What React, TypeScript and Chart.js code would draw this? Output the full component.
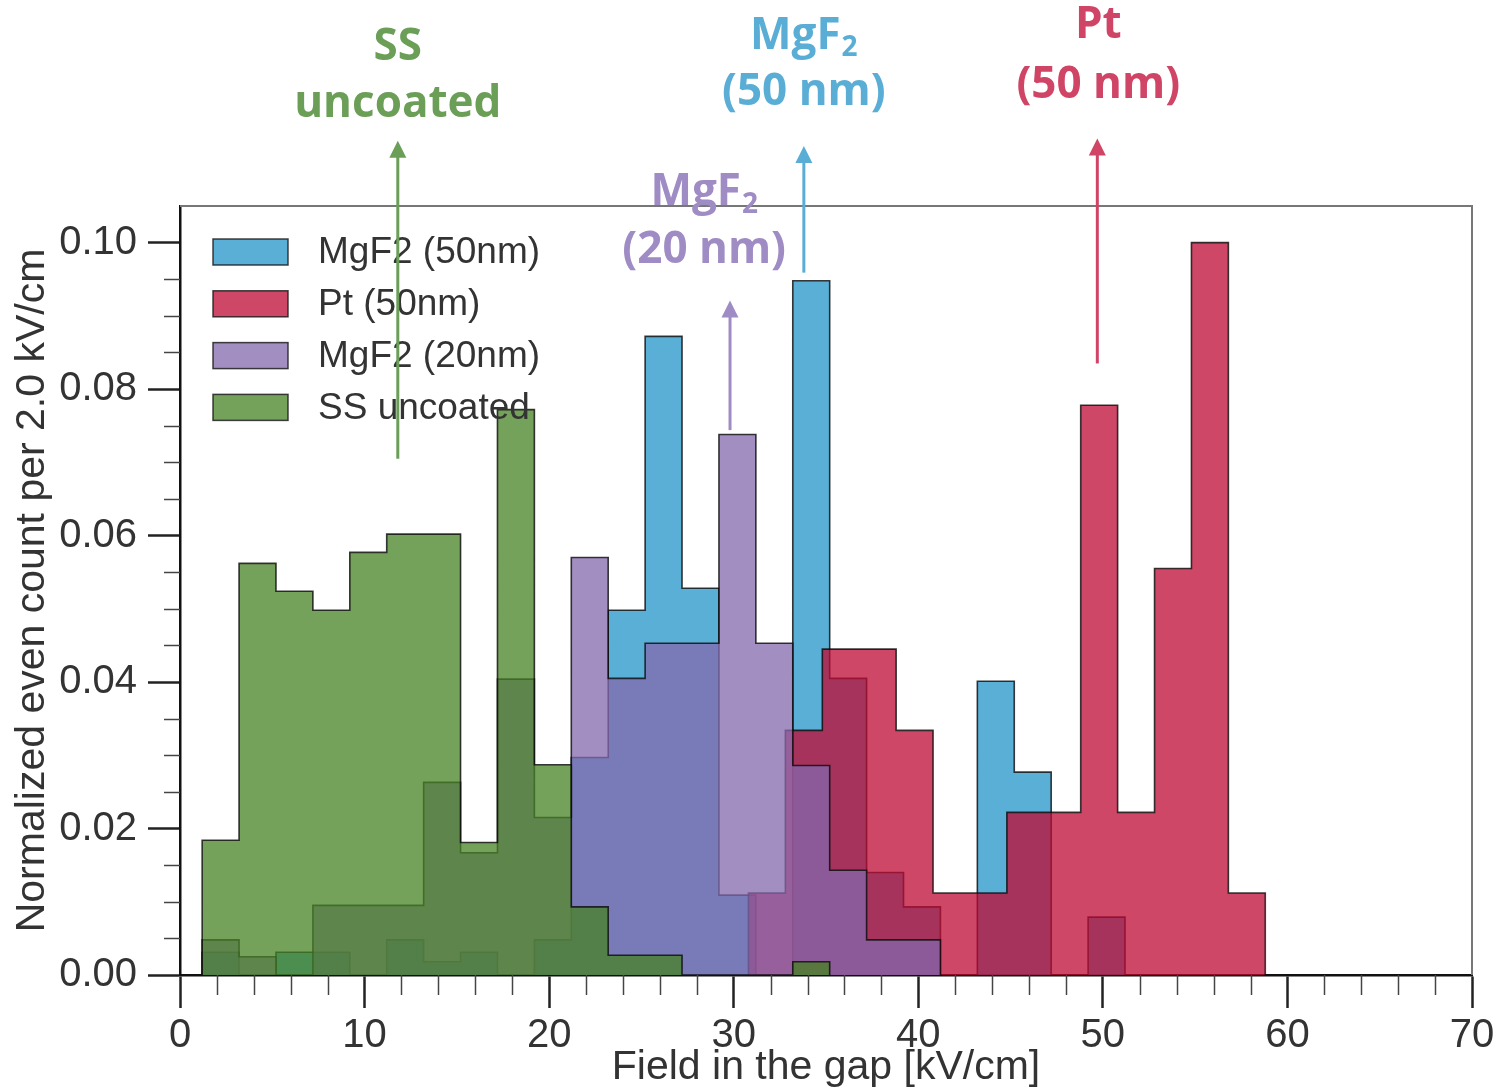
import React, { useEffect, useRef } from "react";
import { Chart, registerables } from "chart.js";

Chart.register(...registerables);

// ---- Data ----
const xTickValues = [0, 10, 20, 30, 40, 50, 60, 70];
const yTickValues = [0, 0.02, 0.04, 0.06, 0.08, 0.1];

const mgf50Edges = [1.2, 3.2, 5.2, 7.2, 9.2, 11.2, 13.2, 15.2, 17.2, 19.2, 21.2, 23.2, 25.2, 27.2, 29.2, 31.2, 33.2, 35.2, 37.2, 39.2, 41.2, 43.2, 45.2, 47.2, 49.2, 51.2];
const mgf50Values = [0.0031, 0, 0.0031, 0.0031, 0, 0.0048, 0.0018, 0.0031, 0, 0.0048, 0.0297, 0.0498, 0.0872, 0.0528, 0.0109, 0, 0.0948, 0.0405, 0.014, 0.0093, 0, 0.0401, 0.0277, 0, 0.0079];

const ptEdges = [30.8, 32.8, 34.8, 36.8, 38.8, 40.8, 42.8, 44.8, 46.8, 48.8, 50.8, 52.8, 54.8, 56.8, 58.8];
const ptValues = [0.0112, 0.0334, 0.0445, 0.0445, 0.0334, 0.0112, 0.0112, 0.0222, 0.0222, 0.0778, 0.0222, 0.0555, 0.1, 0.0112];

const mgf20Edges = [1.2, 3.2, 5.2, 7.2, 9.2, 11.2, 13.2, 15.2, 17.2, 19.2, 21.2, 23.2, 25.2, 27.2, 29.2, 31.2, 33.2, 35.2, 37.2, 39.2, 41.2];
const mgf20Values = [0.0048, 0.0025, 0, 0.0095, 0.0095, 0.0095, 0.0263, 0.0167, 0.0404, 0.0215, 0.057, 0.0405, 0.0453, 0.0453, 0.0738, 0.0453, 0.0286, 0.0143, 0.0048, 0.0048];

const ssEdges = [1.2, 3.2, 5.2, 7.2, 9.2, 11.2, 13.2, 15.2, 17.2, 19.2, 21.2, 23.2, 25.2, 27.2, 29.2, 31.2, 33.2, 35.2];
const ssValues = [0.0184, 0.0562, 0.0524, 0.0498, 0.0577, 0.0602, 0.0602, 0.0181, 0.0772, 0.0287, 0.0093, 0.0027, 0.0027, 0, 0, 0, 0.0018];

const seriesLabels = ["MgF2 (50nm)", "Pt (50nm)", "MgF2 (20nm)", "SS uncoated"];
const seriesColors = ["rgba(35,148,200,0.75)", "rgba(191,10,51,0.75)", "rgba(132,104,174,0.75)", "rgba(71,131,35,0.75)"];

// annotation texts (data coordinates: x value, y value)
const annotations = [
  { color: "#6b9e57", textX: 11.8, lines: [{ t: "SS", y: 0.1266 }, { t: "uncoated", y: 0.1188 }], arrowX: 11.8, arrowFrom: 0.0705, arrowTo: 0.1139 },
  { color: "#5aaed6", textX: 33.8, lines: [{ t: "MgF", sub: "2", y: 0.1282 }, { t: "(50 nm)", y: 0.1205 }], arrowX: 33.8, arrowFrom: 0.0959, arrowTo: 0.1132 },
  { color: "#a08cc4", textX: 28.4, lines: [{ t: "MgF", sub: "2", y: 0.1068 }, { t: "(20 nm)", y: 0.0989 }], arrowX: 29.8, arrowFrom: 0.0744, arrowTo: 0.0921 },
  { color: "#d04466", textX: 49.75, lines: [{ t: "Pt", y: 0.1296 }, { t: "(50 nm)", y: 0.1214 }], arrowX: 49.7, arrowFrom: 0.0835, arrowTo: 0.1142 },
];

function toSteps(edges: number[], values: number[]) {
  const pts: { x: number; y: number }[] = [{ x: edges[0], y: 0 }];
  values.forEach((v, i) => pts.push({ x: edges[i], y: v }));
  pts.push({ x: edges[edges.length - 1], y: 0 });
  return pts;
}

const SANS = '"Liberation Sans", Arial, sans-serif';
const BOLD = `bold 44px "Open Sans", ${SANS}`;
const BOLD_SUB = `bold 28px "Open Sans", ${SANS}`;

const framePlugin = {
  id: "frameMinor",
  afterDraw(chart: any) {
    const { ctx, chartArea: a, scales } = chart;
    const xs = scales.x;
    const ys = scales.y;
    ctx.save();
    ctx.strokeStyle = "#777";
    ctx.lineWidth = 2;
    ctx.beginPath();
    ctx.moveTo(a.left, a.top);
    ctx.lineTo(a.right, a.top);
    ctx.lineTo(a.right, a.bottom);
    ctx.stroke();
    ctx.strokeStyle = "#444";
    ctx.lineWidth = 1.5;
    for (let v = 2; v < 70; v += 2) {
      if (v % 10 === 0) continue;
      const px = Math.round(xs.getPixelForValue(v)) + 0.5;
      ctx.beginPath();
      ctx.moveTo(px, a.bottom);
      ctx.lineTo(px, a.bottom + 20);
      ctx.stroke();
    }
    for (let i = 1; i <= 20; i++) {
      if (i % 4 === 0) continue;
      const py = Math.round(ys.getPixelForValue(i * 0.005)) + 0.5;
      ctx.beginPath();
      ctx.moveTo(a.left - 16, py);
      ctx.lineTo(a.left, py);
      ctx.stroke();
    }
    ctx.restore();
  },
};

const legendPlugin = {
  id: "innerLegend",
  afterDatasetsDraw(chart: any) {
    const ctx = chart.ctx;
    ctx.save();
    chart.data.datasets.forEach((ds: any, i: number) => {
      const cy = 252 + i * 51.8;
      ctx.fillStyle = "#fff";
      ctx.fillRect(213, cy - 13, 75, 26);
      ctx.fillStyle = ds.backgroundColor;
      ctx.fillRect(213, cy - 13, 75, 26);
      ctx.strokeStyle = "rgba(20,20,20,0.8)";
      ctx.lineWidth = 1.5;
      ctx.strokeRect(213, cy - 13, 75, 26);
      ctx.fillStyle = "#333";
      ctx.font = `37px ${SANS}`;
      ctx.textBaseline = "middle";
      ctx.textAlign = "left";
      ctx.fillText(ds.label, 318, cy + 1);
    });
    ctx.restore();
  },
};

const annotationPlugin = {
  id: "arrows",
  afterDraw(chart: any) {
    const { ctx, scales } = chart;
    const xs = scales.x;
    const ys = scales.y;
    ctx.save();
    annotations.forEach((an) => {
      ctx.fillStyle = an.color;
      ctx.strokeStyle = an.color;
      const cx = xs.getPixelForValue(an.textX);
      an.lines.forEach((ln: any) => {
        const py = ys.getPixelForValue(ln.y);
        ctx.font = BOLD;
        ctx.textBaseline = "middle";
        ctx.textAlign = "left";
        const w1 = ctx.measureText(ln.t).width;
        let w2 = 0;
        if (ln.sub) {
          ctx.font = BOLD_SUB;
          w2 = ctx.measureText(ln.sub).width + 1;
        }
        const startX = cx - (w1 + w2) / 2;
        ctx.font = BOLD;
        ctx.fillText(ln.t, startX, py);
        if (ln.sub) {
          ctx.font = BOLD_SUB;
          ctx.fillText(ln.sub, startX + w1 + 1, py + 12);
        }
      });
      const ax = xs.getPixelForValue(an.arrowX);
      const y0 = ys.getPixelForValue(an.arrowFrom);
      const y1 = ys.getPixelForValue(an.arrowTo);
      ctx.lineWidth = 3;
      ctx.beginPath();
      ctx.moveTo(ax, y0);
      ctx.lineTo(ax, y1 + 14);
      ctx.stroke();
      ctx.beginPath();
      ctx.moveTo(ax, y1);
      ctx.lineTo(ax - 8.5, y1 + 17);
      ctx.lineTo(ax + 8.5, y1 + 17);
      ctx.closePath();
      ctx.fill();
    });
    ctx.restore();
  },
};

export default function App() {
  const ref = useRef<HTMLCanvasElement | null>(null);

  useEffect(() => {
    if (!ref.current) return;
    const edgeSets = [mgf50Edges, ptEdges, mgf20Edges, ssEdges];
    const valueSets = [mgf50Values, ptValues, mgf20Values, ssValues];
    const orders = [4, 3, 2, 1];
    const datasets = seriesLabels.map((label, i) => ({
      label,
      data: toSteps(edgeSets[i], valueSets[i]),
      stepped: "before" as const,
      fill: "origin",
      backgroundColor: seriesColors[i],
      borderColor: "rgba(10,10,10,0.8)",
      borderWidth: 1.6,
      pointRadius: 0,
      pointHoverRadius: 0,
      tension: 0,
      order: orders[i],
    }));

    const chart = new Chart(ref.current, {
      type: "line",
      data: { datasets },
      options: {
        responsive: false,
        animation: false,
        devicePixelRatio: 1,
        events: [],
        layout: { padding: { left: 0, top: 206, right: 27, bottom: 0 } },
        plugins: {
          legend: { display: false },
          tooltip: { enabled: false },
          title: { display: false },
        },
        scales: {
          x: {
            type: "linear",
            min: 0,
            max: 70,
            afterFit: (s: any) => {
              s.height = 117;
            },
            afterBuildTicks: (s: any) => {
              s.ticks = xTickValues.map((v) => ({ value: v }));
            },
            ticks: {
              includeBounds: false,
              stepSize: 10,
              padding: 4,
              color: "#333",
              font: { family: SANS, size: 40 },
              callback: (v: any) => String(v),
              maxRotation: 0,
              autoSkip: false,
            },
            grid: { display: true, drawOnChartArea: false, drawTicks: true, tickLength: 33, tickWidth: 2.5, tickColor: "#222" },
            border: { display: true, color: "#111", width: 2.5 },
            title: {
              display: true,
              text: "Field in the gap [kV/cm]",
              color: "#333",
              font: { family: SANS, size: 41 },
              padding: { top: 0, bottom: 0 },
            },
          },
          y: {
            type: "linear",
            min: 0,
            max: 0.105,
            afterFit: (s: any) => {
              s.width = 180;
            },
            afterBuildTicks: (s: any) => {
              s.ticks = yTickValues.map((v) => ({ value: v }));
            },
            ticks: {
              includeBounds: false,
              stepSize: 0.02,
              padding: 11,
              color: "#333",
              font: { family: SANS, size: 40 },
              callback: (v: any) => Number(v).toFixed(2),
              autoSkip: false,
            },
            grid: { display: true, drawOnChartArea: false, drawTicks: true, tickLength: 32, tickWidth: 2.5, tickColor: "#222" },
            border: { display: true, color: "#111", width: 2.5 },
            title: {
              display: true,
              text: "Normalized even count per 2.0 kV/cm",
              color: "#333",
              font: { family: SANS, size: 41 },
              padding: { top: 8, bottom: 0 },
            },
          },
        },
      },
      plugins: [framePlugin, legendPlugin, annotationPlugin],
    } as any);

    return () => chart.destroy();
  }, []);

  return (
    <div style={{ position: "absolute", left: 0, top: 0, width: 1499, height: 1092, background: "#fff" }}>
      <canvas ref={ref} width={1499} height={1092} style={{ display: "block", width: 1499, height: 1092 }} />
    </div>
  );
}
